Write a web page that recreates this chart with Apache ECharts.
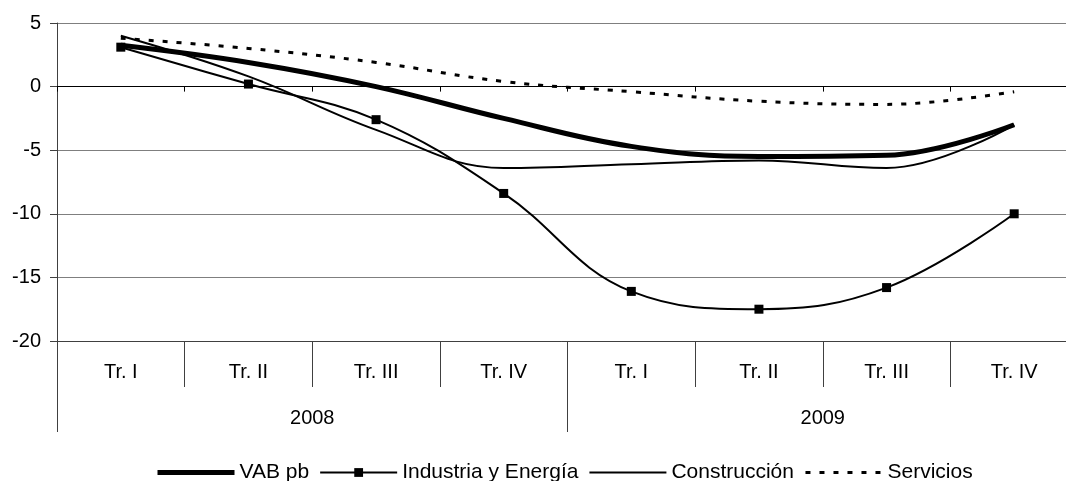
<!DOCTYPE html>
<html>
<head>
<meta charset="utf-8">
<title>VAB pb por sectores</title>
<script src="https://cdn.jsdelivr.net/npm/echarts@6/dist/echarts.min.js"></script>
<style>
  html, body { margin: 0; padding: 0; background: #fff; }
  #chart { width: 1066px; height: 481px; }
</style>
</head>
<body>
<div id="chart"></div>
<script>
// --- 数据 ---
const quarters = ['Tr. I', 'Tr. II', 'Tr. III', 'Tr. IV', 'Tr. I', 'Tr. II', 'Tr. III', 'Tr. IV'];
const years = ['2008', '2009'];
const yTicks = { min: -20, max: 5, step: 5 };

const vabPb        = [3.25, 1.9, 0.0, -2.5, -4.7, -5.5, -5.4, -3.0];
const industria    = [3.1, 0.2, -2.6, -8.4, -16.1, -17.5, -15.8, -10.0];
const construccion = [4.0, 0.8, -3.4, -6.4, -6.1, -5.8, -6.4, -3.0];
const servicios    = [3.8, 3.0, 1.9, 0.4, -0.4, -1.15, -1.4, -0.4];

const FONT = 'Liberation Sans, Arial, sans-serif';
const AXIS_COLOR = '#404040';
const SERV_DASH = [5, 9];

const chart = echarts.init(document.getElementById('chart'));

// 没有标记点的系列：图例里隐藏默认的圆点
const noMarker = { opacity: 0 };

const option = {
  animation: false,
  textStyle: { fontFamily: FONT, color: '#000' },
  // 绘图区右侧超出画布（原图被裁切）
  grid: { left: 57, right: -12, top: 23, bottom: 140, outerBoundsMode: 'none' },
  legend: {
    left: 155,
    top: 462,
    padding: 0,
    itemWidth: 77,
    itemHeight: 11,
    itemGap: 10,
    textStyle: { fontFamily: FONT, fontSize: 21, color: '#000' },
    data: [
      { name: 'VAB pb', itemStyle: noMarker, lineStyle: { width: 5 } },
      { name: 'Industria y Energía', lineStyle: { width: 2 } },
      { name: 'Construcción', itemStyle: noMarker, lineStyle: { width: 2 } },
      { name: 'Servicios', itemStyle: noMarker, lineStyle: { width: 3, type: SERV_DASH } }
    ]
  },
  xAxis: [
    // 0 线上的分类轴（只画刻度）
    {
      type: 'category',
      data: quarters,
      axisLine: { onZero: true, lineStyle: { color: '#000', width: 1 } },
      axisTick: { show: true, length: 5, interval: 0, lineStyle: { color: '#000' } },
      axisLabel: { show: false }
    },
    // 季度标签行
    {
      type: 'category',
      data: quarters,
      position: 'bottom',
      axisLine: { onZero: false, lineStyle: { color: AXIS_COLOR, width: 1 } },
      axisTick: { show: true, length: 46, interval: 0, lineStyle: { color: AXIS_COLOR } },
      axisLabel: { interval: 0, margin: 21, fontSize: 20, color: '#000', fontFamily: FONT }
    },
    // 年份标签行
    {
      type: 'category',
      data: years,
      position: 'bottom',
      axisLine: { show: false, onZero: false },
      axisTick: { show: true, length: 91, interval: 0, lineStyle: { color: AXIS_COLOR } },
      axisLabel: { interval: 0, margin: 67, fontSize: 20, color: '#000', fontFamily: FONT }
    }
  ],
  yAxis: {
    type: 'value',
    min: yTicks.min,
    max: yTicks.max,
    interval: yTicks.step,
    axisLine: { show: true, lineStyle: { color: AXIS_COLOR, width: 1 } },
    axisTick: { show: true, length: 7, lineStyle: { color: AXIS_COLOR } },
    axisLabel: { margin: 16, fontSize: 20, color: '#000', fontFamily: FONT },
    splitLine: { show: true, lineStyle: { color: '#7f7f7f', width: 1 } }
  },
  series: [
    {
      name: 'VAB pb',
      type: 'line',
      data: vabPb,
      smooth: 0.4,
      symbol: 'none',
      z: 4,
      lineStyle: { color: '#000', width: 5 },
      itemStyle: { color: '#000' }
    },
    {
      name: 'Industria y Energía',
      type: 'line',
      data: industria,
      smooth: 0.4,
      symbol: 'rect',
      symbolSize: 9,
      z: 3,
      lineStyle: { color: '#000', width: 2 },
      itemStyle: { color: '#000', borderWidth: 0 }
    },
    {
      name: 'Construcción',
      type: 'line',
      data: construccion,
      smooth: 0.4,
      symbol: 'none',
      z: 3,
      lineStyle: { color: '#000', width: 2 },
      itemStyle: { color: '#000' }
    },
    {
      name: 'Servicios',
      type: 'line',
      data: servicios,
      smooth: 0.4,
      symbol: 'none',
      z: 3,
      lineStyle: { color: '#000', width: 3, type: SERV_DASH },
      itemStyle: { color: '#000' }
    }
  ]
};

chart.setOption(option);
</script>
</body>
</html>
